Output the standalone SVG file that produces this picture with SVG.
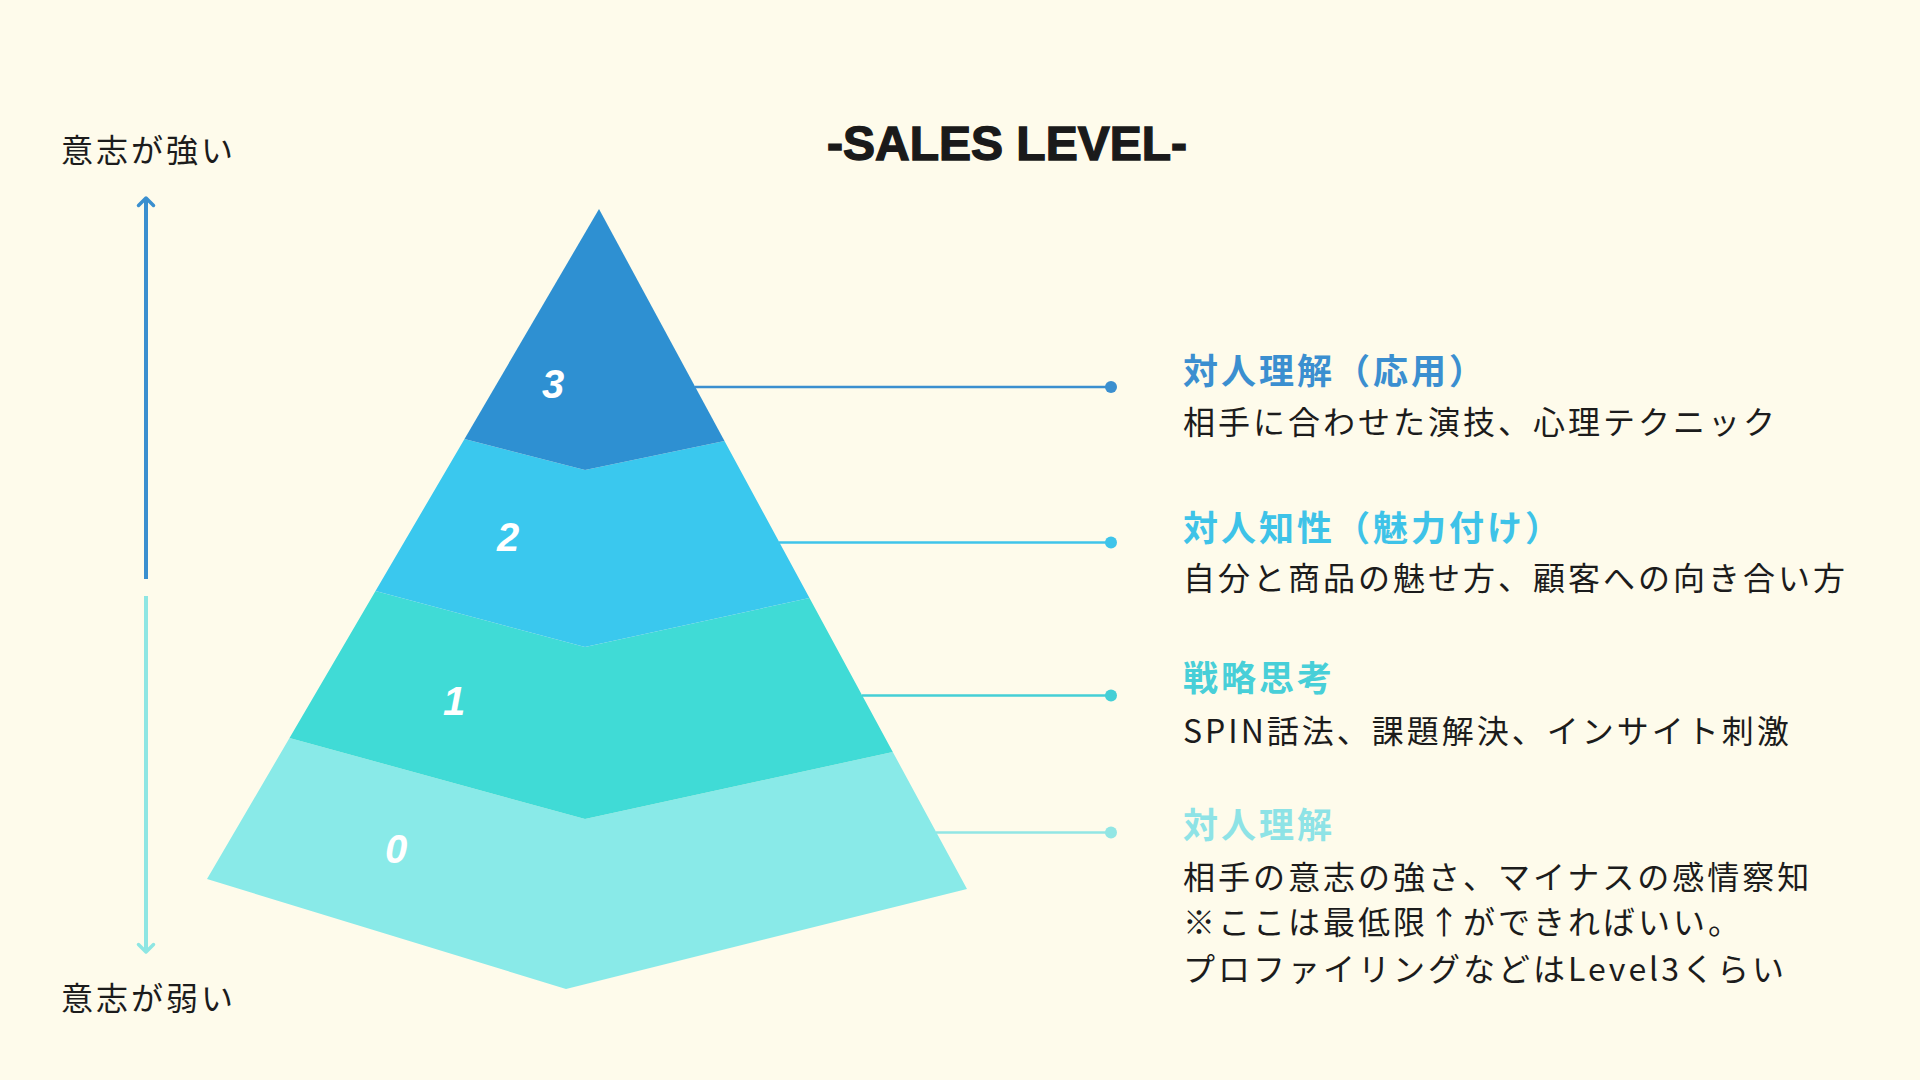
<svg xmlns="http://www.w3.org/2000/svg" width="1920" height="1080" viewBox="0 0 1920 1080">
  <style>
    .jp { font-family: "Noto Sans CJK JP", "Noto Sans", sans-serif; }
    .body { font-size: 32px; letter-spacing: 3px; fill: #1c1c1c; font-weight: 400; }
    .head { font-size: 35px; letter-spacing: 3px; font-weight: 700; }
    .num { font-family: "Liberation Sans", Arial, sans-serif; font-size: 40px; font-weight: 700; font-style: italic; fill: #ffffff; text-anchor: middle; }
    .title { font-family: "Liberation Sans", Arial, sans-serif; font-size: 48px; font-weight: 700; fill: #1a1a1a; stroke: #1a1a1a; stroke-width: 1.4; text-anchor: middle; }
    .conn { stroke-width: 2.5; fill: none; }
  </style>
  <rect x="0" y="0" width="1920" height="1080" fill="#fefbeb"/>

  <g id="title">
    <text class="title" x="1007" y="160">-SALES LEVEL-</text>
  </g>

  <g id="axis">
    <text class="jp body" x="61" y="162">意志が強い</text>
    <line x1="146" y1="579" x2="146" y2="199" stroke="#3a8fcf" stroke-width="4"/>
    <path d="M138.5,205.5 L146,198 L153.5,205.5" fill="none" stroke="#3a8fcf" stroke-width="3.5" stroke-linecap="round" stroke-linejoin="round"/>
    <line x1="146" y1="596" x2="146" y2="950" stroke="#8ee6e3" stroke-width="4"/>
    <path d="M138.5,944.5 L146,952 L153.5,944.5" fill="none" stroke="#8ee6e3" stroke-width="3.5" stroke-linecap="round" stroke-linejoin="round"/>
    <text class="jp body" x="61" y="1010">意志が弱い</text>
  </g>

  <g id="level0">
    <polygon points="289.5,738 585,819 892.8,752 967,889 566,989 207,879" fill="#89eae8"/>
    <text class="num" x="396" y="863">0</text>
  </g>
  <g id="level1">
    <polygon points="375.5,591 585,647 809.5,598 892.8,752 585,819 289.5,738" fill="#40dbd6"/>
    <text class="num" x="454" y="715">1</text>
  </g>
  <g id="level2">
    <polygon points="464.5,439 585,470 724.5,441 809.5,598 585,647 375.5,591" fill="#3ac8ee"/>
    <text class="num" x="508" y="551">2</text>
  </g>
  <g id="level3">
    <polygon points="599,209 724.5,441 585,470 464.5,439" fill="#2e90d2"/>
    <text class="num" x="553" y="398">3</text>
  </g>

  <g id="connectors">
    <line class="conn" x1="695" y1="387" x2="1111" y2="387" stroke="#3b8fcf"/>
    <circle cx="1111" cy="387" r="6" fill="#3b8fcf"/>
    <line class="conn" x1="779" y1="542.5" x2="1111" y2="542.5" stroke="#3fc4ea"/>
    <circle cx="1111" cy="542.5" r="6" fill="#3fc4ea"/>
    <line class="conn" x1="862" y1="695.5" x2="1111" y2="695.5" stroke="#45cfd6"/>
    <circle cx="1111" cy="695.5" r="6" fill="#45cfd6"/>
    <line class="conn" x1="936" y1="832.5" x2="1111" y2="832.5" stroke="#92e6e4"/>
    <circle cx="1111" cy="832.5" r="6" fill="#92e6e4"/>
  </g>

  <g id="text3">
    <text class="jp head" x="1183" y="384" fill="#3b8fd0">対人理解（応用）</text>
    <text class="jp body" x="1183" y="434">相手に合わせた演技、心理テクニック</text>
  </g>
  <g id="text2">
    <text class="jp head" x="1183" y="541" fill="#3ec3e8">対人知性（魅力付け）</text>
    <text class="jp body" x="1183" y="590">自分と商品の魅せ方、顧客への向き合い方</text>
  </g>
  <g id="text1">
    <text class="jp head" x="1183" y="691" fill="#48cfd8">戦略思考</text>
    <text class="jp body" x="1183" y="743">SPIN話法、課題解決、インサイト刺激</text>
  </g>
  <g id="text0">
    <text class="jp head" x="1183" y="838" fill="#8ee3e6">対人理解</text>
    <text class="jp body" x="1183" y="889">相手の意志の強さ、マイナスの感情察知</text>
    <text class="jp body" x="1183" y="934">※ここは最低限↑ができればいい。</text>
    <text class="jp body" x="1183" y="981">プロファイリングなどはLevel3くらい</text>
  </g>
</svg>
